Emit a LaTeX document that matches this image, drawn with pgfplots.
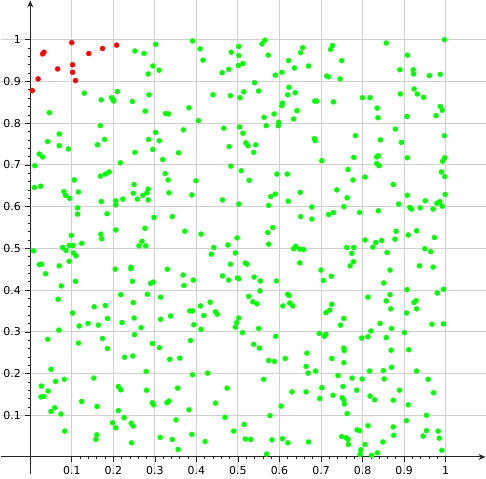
\documentclass[border=0pt]{standalone}
\usepackage{fontspec}
\setmainfont{DejaVu Sans}
\usepackage{pgfplots}
\pgfplotsset{compat=1.18}
\usetikzlibrary{arrows.meta}
\definecolor{ggreen}{RGB}{0,255,0}
\definecolor{gred}{RGB}{255,0,0}
\definecolor{axcol}{RGB}{37,37,37}
\begin{document}
\begin{tikzpicture}
\begin{axis}[
  scale only axis,
  width=486pt, height=475pt,
  xmin=-0.0695, xmax=1.096,
  ymin=-0.040, ymax=1.094,
  axis lines=middle,
  axis line style={axcol, line width=1pt, -{Stealth[length=7pt,width=6pt]}},
  xtick={0.1,0.2,0.3,0.4,0.5,0.6,0.7,0.8,0.9,1},
  ytick={0.1,0.2,0.3,0.4,0.5,0.6,0.7,0.8,0.9,1},
  xticklabels={0.1,0.2,0.3,0.4,0.5,0.6,0.7,0.8,0.9,1},
  yticklabels={0.1,0.2,0.3,0.4,0.5,0.6,0.7,0.8,0.9,1},
  minor x tick num=4, minor y tick num=4,
  tick align=outside,
  major tick length=5pt, minor tick length=2.5pt,
  tick style={axcol, line width=0.6pt},
  grid=major,
  major grid style={black!18, line width=0.9pt},
  ticklabel style={font=\fontsize{11}{13}\selectfont, text=black},
  xticklabel style={yshift=-1pt},
  yticklabel style={xshift=-1pt},
  clip=false,
]
\addplot[only marks, mark=*, mark size=2.5pt, color=ggreen, mark options={draw=ggreen, fill=ggreen}] table {
x y
0.252 0.973
0.130 0.872
0.171 0.856
0.196 0.861
0.199 0.857
0.201 0.853
0.210 0.876
0.246 0.852
0.046 0.825
0.169 0.794
0.070 0.774
0.042 0.756
0.070 0.746
0.179 0.761
0.162 0.748
0.092 0.738
0.022 0.726
0.030 0.719
0.011 0.698
0.217 0.705
0.252 0.730
0.169 0.673
0.181 0.678
0.190 0.683
0.106 0.664
0.274 0.967
0.302 0.989
0.391 0.997
0.409 0.978
0.416 0.951
0.484 0.970
0.502 0.984
0.502 0.962
0.501 0.938
0.478 0.929
0.462 0.921
0.295 0.937
0.284 0.918
0.310 0.927
0.286 0.868
0.277 0.829
0.326 0.823
0.333 0.822
0.382 0.837
0.405 0.806
0.440 0.868
0.482 0.866
0.505 0.861
0.302 0.778
0.285 0.761
0.311 0.758
0.295 0.737
0.369 0.784
0.357 0.729
0.319 0.713
0.466 0.788
0.479 0.744
0.504 0.791
0.483 0.697
0.325 0.679
0.332 0.664
0.399 0.662
0.512 0.943
0.558 0.990
0.565 0.999
0.573 0.963
0.622 0.950
0.656 0.981
0.651 0.969
0.636 0.932
0.606 0.922
0.590 0.915
0.670 0.937
0.728 0.986
0.723 0.977
0.750 0.950
0.714 0.913
0.718 0.911
0.746 0.906
0.540 0.897
0.514 0.875
0.550 0.877
0.623 0.886
0.620 0.868
0.638 0.873
0.607 0.848
0.606 0.842
0.642 0.830
0.587 0.822
0.685 0.853
0.690 0.853
0.730 0.851
0.563 0.814
0.598 0.802
0.597 0.794
0.568 0.794
0.634 0.810
0.512 0.776
0.519 0.753
0.524 0.746
0.543 0.748
0.538 0.730
0.684 0.763
0.686 0.758
0.702 0.710
0.508 0.686
0.527 0.663
0.594 0.678
0.619 0.678
0.857 0.992
0.997 1.000
0.908 0.963
0.890 0.928
0.922 0.928
0.923 0.918
0.961 0.914
0.987 0.917
0.924 0.882
0.932 0.870
0.947 0.862
0.891 0.870
0.800 0.861
0.818 0.861
0.835 0.836
0.837 0.813
0.907 0.816
0.987 0.840
0.992 0.831
0.977 0.818
0.879 0.786
0.783 0.770
0.843 0.760
0.894 0.754
0.779 0.718
0.834 0.719
0.838 0.722
0.908 0.717
0.997 0.770
0.998 0.717
0.993 0.709
0.834 0.703
0.840 0.698
0.765 0.689
0.806 0.671
0.777 0.664
0.990 0.683
0.998 0.672
0.010 0.646
0.025 0.649
0.081 0.636
0.085 0.627
0.095 0.620
0.116 0.635
0.171 0.612
0.206 0.614
0.206 0.604
0.223 0.618
0.248 0.632
0.250 0.653
0.114 0.597
0.114 0.582
0.185 0.583
0.206 0.544
0.099 0.531
0.170 0.534
0.172 0.523
0.124 0.512
0.094 0.507
0.103 0.507
0.078 0.502
0.086 0.495
0.008 0.494
0.104 0.489
0.110 0.482
0.094 0.469
0.022 0.461
0.027 0.462
0.070 0.458
0.037 0.439
0.205 0.450
0.242 0.451
0.243 0.455
0.109 0.421
0.246 0.421
0.075 0.410
0.218 0.389
0.067 0.378
0.248 0.370
0.102 0.345
0.154 0.360
0.181 0.363
0.186 0.332
0.221 0.322
0.139 0.320
0.250 0.333
0.258 0.618
0.271 0.627
0.281 0.633
0.284 0.642
0.284 0.616
0.334 0.633
0.389 0.628
0.463 0.616
0.502 0.606
0.298 0.574
0.342 0.576
0.276 0.548
0.372 0.541
0.411 0.534
0.269 0.517
0.262 0.506
0.278 0.506
0.498 0.525
0.442 0.502
0.436 0.486
0.476 0.508
0.494 0.489
0.482 0.462
0.330 0.450
0.368 0.436
0.370 0.411
0.393 0.424
0.463 0.434
0.478 0.424
0.499 0.429
0.502 0.427
0.290 0.416
0.296 0.419
0.282 0.390
0.314 0.383
0.314 0.330
0.338 0.338
0.384 0.350
0.391 0.350
0.410 0.362
0.433 0.371
0.418 0.339
0.446 0.348
0.450 0.342
0.497 0.322
0.502 0.333
0.394 0.317
0.579 0.624
0.590 0.630
0.574 0.603
0.621 0.613
0.650 0.634
0.678 0.599
0.651 0.576
0.678 0.570
0.738 0.640
0.718 0.581
0.730 0.586
0.755 0.600
0.572 0.538
0.584 0.550
0.574 0.510
0.634 0.499
0.639 0.505
0.649 0.498
0.658 0.497
0.649 0.465
0.518 0.465
0.522 0.462
0.539 0.431
0.554 0.422
0.593 0.422
0.553 0.398
0.526 0.385
0.536 0.372
0.546 0.367
0.620 0.390
0.623 0.387
0.625 0.369
0.632 0.362
0.608 0.362
0.700 0.448
0.706 0.423
0.725 0.433
0.726 0.366
0.712 0.346
0.721 0.352
0.755 0.332
0.874 0.653
0.763 0.621
0.793 0.586
0.838 0.590
0.887 0.606
0.908 0.627
0.914 0.598
0.918 0.594
0.939 0.597
0.951 0.614
0.970 0.594
0.979 0.608
0.986 0.612
0.992 0.601
0.999 0.629
0.806 0.520
0.832 0.514
0.825 0.503
0.846 0.519
0.881 0.541
0.878 0.522
0.910 0.532
0.930 0.542
0.973 0.526
0.950 0.499
0.964 0.492
0.762 0.502
0.779 0.502
0.774 0.488
0.778 0.468
0.770 0.458
0.859 0.490
0.937 0.458
0.970 0.455
0.866 0.448
0.851 0.417
0.907 0.401
0.995 0.402
0.980 0.393
0.813 0.383
0.866 0.389
0.857 0.374
0.868 0.355
0.924 0.370
0.929 0.375
0.930 0.355
0.906 0.345
0.842 0.320
0.967 0.318
0.995 0.319
0.118 0.314
0.164 0.316
0.069 0.304
0.042 0.282
0.116 0.273
0.174 0.284
0.186 0.260
0.251 0.293
0.227 0.239
0.247 0.242
0.050 0.210
0.027 0.170
0.061 0.181
0.082 0.186
0.153 0.189
0.026 0.144
0.033 0.145
0.043 0.158
0.212 0.169
0.218 0.161
0.124 0.133
0.161 0.121
0.059 0.118
0.050 0.109
0.074 0.103
0.212 0.111
0.226 0.094
0.198 0.082
0.206 0.070
0.243 0.081
0.248 0.074
0.083 0.062
0.160 0.053
0.158 0.042
0.244 0.034
0.267 0.310
0.411 0.306
0.494 0.311
0.294 0.272
0.311 0.262
0.386 0.279
0.336 0.234
0.360 0.237
0.279 0.205
0.391 0.197
0.427 0.201
0.280 0.160
0.355 0.165
0.294 0.130
0.297 0.125
0.329 0.130
0.334 0.134
0.382 0.113
0.446 0.129
0.474 0.165
0.351 0.089
0.469 0.095
0.313 0.047
0.342 0.042
0.389 0.054
0.421 0.037
0.490 0.062
0.356 0.018
0.511 0.298
0.550 0.308
0.591 0.289
0.538 0.270
0.552 0.261
0.574 0.231
0.588 0.229
0.614 0.236
0.562 0.186
0.666 0.249
0.664 0.217
0.669 0.201
0.687 0.206
0.696 0.296
0.708 0.289
0.712 0.294
0.726 0.236
0.747 0.316
0.630 0.156
0.664 0.156
0.702 0.166
0.697 0.140
0.729 0.148
0.741 0.195
0.604 0.122
0.577 0.099
0.515 0.078
0.518 0.043
0.531 0.042
0.582 0.041
0.607 0.044
0.620 0.034
0.670 0.036
0.569 0.007
0.870 0.308
0.901 0.298
0.820 0.302
0.798 0.285
0.813 0.288
0.857 0.286
0.755 0.261
0.756 0.255
0.869 0.256
0.911 0.257
0.755 0.226
0.817 0.206
0.850 0.207
0.870 0.215
0.930 0.206
0.775 0.189
0.799 0.187
0.852 0.187
0.958 0.186
0.753 0.169
0.786 0.160
0.889 0.160
0.971 0.154
0.751 0.142
0.755 0.137
0.756 0.127
0.818 0.146
0.829 0.137
0.874 0.136
0.910 0.125
0.763 0.104
0.954 0.100
0.906 0.087
0.787 0.065
0.793 0.063
0.813 0.075
0.874 0.072
0.875 0.052
0.750 0.049
0.761 0.046
0.765 0.042
0.766 0.030
0.806 0.030
0.849 0.036
0.954 0.063
0.982 0.062
0.946 0.050
0.985 0.045
0.991 0.016
0.796 0.017
0.794 0.006
0.822 0.004
0.836 0.010
};
\addplot[only marks, mark=*, mark size=2.5pt, color=gred, mark options={draw=gred, fill=gred}] table {
x y
0.100 0.993
0.033 0.970
0.030 0.966
0.174 0.979
0.208 0.987
0.141 0.967
0.066 0.930
0.102 0.940
0.102 0.922
0.109 0.902
0.019 0.906
0.005 0.878
};
\end{axis}
\end{tikzpicture}
\end{document}
